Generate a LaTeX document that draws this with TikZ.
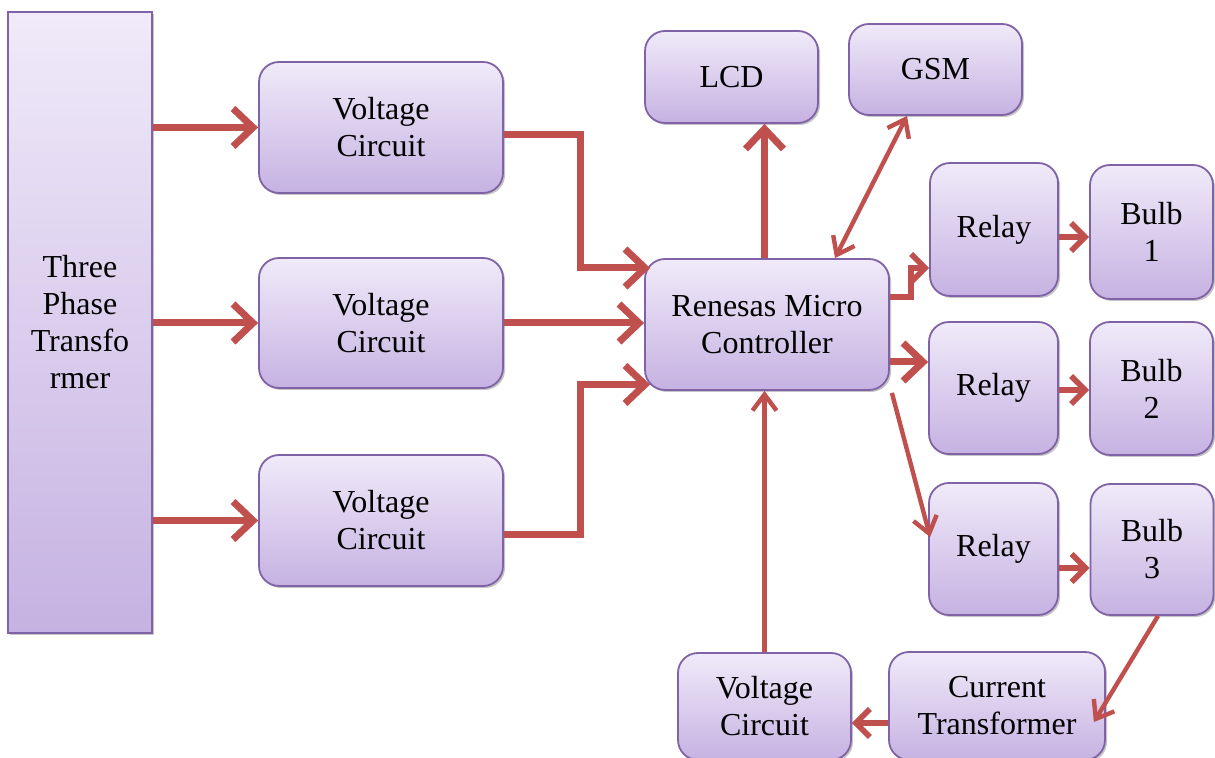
\documentclass[tikz,border=0pt]{standalone}
\usepackage{fontspec}
\setmainfont{Liberation Serif}
\usetikzlibrary{arrows.meta,positioning,calc,shadows}
\definecolor{BoxLine}{HTML}{7F63A6}
\definecolor{BoxTop}{HTML}{F0EAF9}
\definecolor{BoxBottom}{HTML}{C6B2E2}
\definecolor{FlowRed}{HTML}{C0504D}
\tikzset{
  unit/.style={draw=BoxLine,line width=0.9pt,top color=BoxTop,bottom color=BoxBottom,
    rounded corners=10pt,align=center,inner sep=2pt,
    font=\fontsize{16}{18.5}\selectfont,
    drop shadow={shadow xshift=1pt,shadow yshift=-1pt,fill=black!45}},
  bigflow/.style={draw=FlowRed,line width=3.5pt,-{Straight Barb[length=10pt,width=19pt]}},
  midflow/.style={draw=FlowRed,line width=2.8pt,-{Straight Barb[length=7pt,width=14pt]}},
  thinflow/.style={draw=FlowRed,line width=2.2pt,-{Straight Barb[length=8pt,width=12pt]}}
}
\begin{document}
\begin{tikzpicture}[x=0.5pt,y=-0.5pt]
  \useasboundingbox (0,0) rectangle (1215,758);
  % blocks
  \node[unit,sharp corners,minimum width=72pt,minimum height=310.5pt] (tpt) at (80,322.5) {Three\\Phase\\Transfo\\rmer};
  \node[unit,minimum width=122pt,minimum height=65.5pt] (vc1) at (381,127.5) {Voltage\\Circuit};
  \node[unit,minimum width=122pt,minimum height=65pt] (vc2) at (381,323) {Voltage\\Circuit};
  \node[unit,minimum width=122pt,minimum height=65.5pt] (vc3) at (381,520.5) {Voltage\\Circuit};
  \node[unit,minimum width=122pt,minimum height=65.5pt] (mcu) at (767,324.5) {Renesas Micro\\Controller};
  \node[unit,minimum width=86.5pt,minimum height=46pt] (lcd) at (731.5,77) {LCD};
  \node[unit,minimum width=86.5pt,minimum height=45.5pt] (gsm) at (935.5,69.5) {GSM};
  \node[unit,minimum width=64pt,minimum height=66.5pt] (relay1) at (994,229.5) {Relay};
  \node[unit,minimum width=61.5pt,minimum height=67pt] (bulb1) at (1151.5,232) {Bulb\\1};
  \node[unit,minimum width=64.5pt,minimum height=66pt] (relay2) at (993.5,388) {Relay};
  \node[unit,minimum width=61.5pt,minimum height=66.5pt] (bulb2) at (1151.5,388.5) {Bulb\\2};
  \node[unit,minimum width=64.5pt,minimum height=66pt] (relay3) at (993.5,549) {Relay};
  \node[unit,minimum width=61.5pt,minimum height=65.5pt] (bulb3) at (1152,549.5) {Bulb\\3};
  \node[unit,minimum width=108pt,minimum height=54pt] (ct) at (997,706) {Current\\Transformer};
  \node[unit,minimum width=86.5pt,minimum height=53.5pt] (vc4) at (764.5,706.5) {Voltage\\Circuit};
  % supply side
  \draw[bigflow] (tpt.east |- vc1) -- (vc1.west);
  \draw[bigflow] (tpt.east |- vc2) -- (vc2.west);
  \draw[bigflow] (tpt.east |- vc3) -- (vc3.west);
  \draw[bigflow] ([yshift=-3.75pt]vc1.east) -- ++(77,0) |- ([xshift=3pt,yshift=28.25pt]mcu.west);
  \draw[bigflow] (vc2.east) -- (vc2.east -| mcu.west);
  \draw[bigflow] ([yshift=-7.25pt]vc3.east) -- ++(77,0) |- ([xshift=3pt,yshift=-30pt]mcu.west);
  % controller outputs
  \draw[bigflow] (mcu.north -| vc4) -- (vc4 |- lcd.south);
  \draw[thinflow,{Straight Barb[length=8pt,width=12pt]}-{Straight Barb[length=8pt,width=12pt]}] ([xshift=-14.25pt]gsm.south) -- ([xshift=34pt]mcu.north);
  \draw[midflow] ([yshift=13.75pt]mcu.east) -- ++(21,0) |- ([yshift=-19.25pt]relay1.west);
  \draw[bigflow] ([yshift=-18.75pt]mcu.east) -- ([yshift=13pt]relay2.west);
  \draw[thinflow] ([xshift=1pt,yshift=-1pt]mcu.south east) -- ([xshift=1pt,yshift=6pt]relay3.west);
  \draw[midflow] ([yshift=-3.75pt]relay1.east) -- ([yshift=-2.5pt]bulb1.west);
  \draw[midflow] ([yshift=-1pt]relay2.east) -- ([yshift=-0.75pt]bulb2.west);
  \draw[midflow] ([yshift=-9.5pt]relay3.east) -- ([yshift=-9.25pt]bulb3.west);
  % current feedback
  \draw[thinflow] ([xshift=3pt]bulb3.south) -- ([xshift=-6pt,yshift=-8pt]ct.east);
  \draw[midflow] ([yshift=-8.5pt]ct.west) -- ([yshift=-8.25pt]vc4.east);
  \draw[thinflow] (vc4.north) -- (vc4 |- mcu.south);
\end{tikzpicture}
\end{document}
